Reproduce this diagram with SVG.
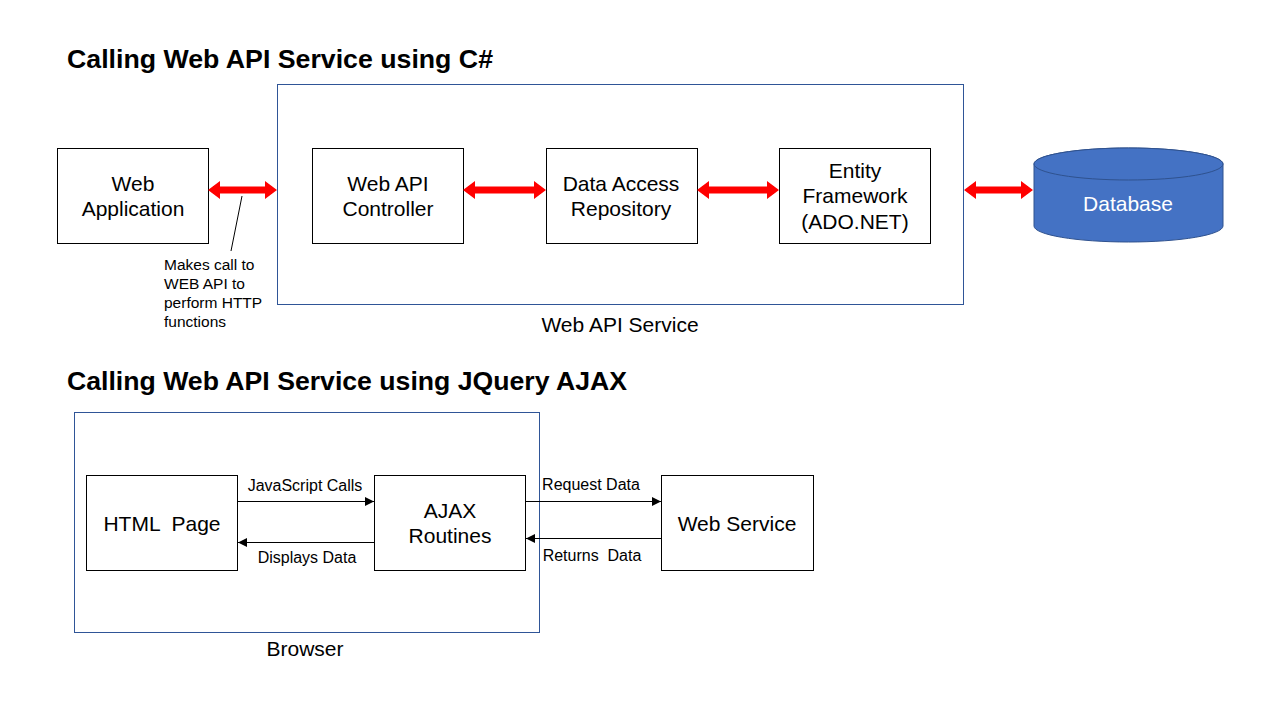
<svg xmlns="http://www.w3.org/2000/svg" width="1280" height="720" viewBox="0 0 1280 720">
<style>
.title{font-family:"Liberation Sans",Arial,sans-serif;font-weight:bold;font-size:26px;fill:#000}
.box{fill:#fff;stroke:#000;stroke-width:1}
.cont{fill:none;stroke:#2F5597;stroke-width:1}
.t20{font-family:"Liberation Sans",Arial,sans-serif;font-size:21px;fill:#000;text-anchor:middle}
.t18{font-family:"Liberation Sans",Arial,sans-serif;font-size:21px;fill:#000;text-anchor:middle}
.t14{font-family:"Liberation Sans",Arial,sans-serif;font-size:15.5px;fill:#000}
.t15{font-family:"Liberation Sans",Arial,sans-serif;font-size:16px;fill:#000;text-anchor:middle}
.red{fill:#FF0000}
.ln{stroke:#000;stroke-width:1;fill:none}
</style>
<defs>
<marker id="ah" viewBox="0 0 10 10" refX="10" refY="5" markerWidth="9" markerHeight="9" markerUnits="userSpaceOnUse" orient="auto">
<path d="M0,0 L10,5 L0,10 z" fill="#000"/>
</marker>
</defs>
<rect width="1280" height="720" fill="#fff"/>
<text class="title" x="67" y="68" textLength="426" lengthAdjust="spacingAndGlyphs">Calling Web API Service using C#</text>
<text class="title" x="67" y="390" textLength="560" lengthAdjust="spacingAndGlyphs">Calling Web API Service using JQuery AJAX</text>

<g id="webapi-service">
<rect class="cont" x="277.5" y="84.5" width="686" height="220"/>
<text class="t18" x="620" y="332">Web API Service</text>
</g>
<g id="web-application">
<rect class="box" x="57.5" y="148.5" width="151" height="95"/>
<text class="t20" x="133" y="191">Web</text>
<text class="t20" x="133" y="216">Application</text>
</g>
<g id="webapi-controller">
<rect class="box" x="312.5" y="148.5" width="151" height="95"/>
<text class="t20" x="388" y="191">Web API</text>
<text class="t20" x="388" y="216">Controller</text>
</g>
<g id="data-access">
<rect class="box" x="546.5" y="148.5" width="151" height="95"/>
<text class="t20" x="621" y="191">Data Access</text>
<text class="t20" x="621" y="216">Repository</text>
</g>
<g id="entity-framework">
<rect class="box" x="779.5" y="148.5" width="151" height="95"/>
<text class="t20" x="855" y="178">Entity</text>
<text class="t20" x="855" y="203">Framework</text>
<text class="t20" x="855" y="229">(ADO.NET)</text>
</g>
<g id="database">
<path d="M1034,164 L1034,226 A94.5,16 0 0 0 1223,226 L1223,164 A94.5,16 0 0 0 1034,164 z" fill="#4472C4" stroke="#2F528F" stroke-width="1"/>
<ellipse cx="1128.5" cy="164" rx="94.5" ry="16" fill="#4472C4" stroke="#2F528F" stroke-width="1"/>
<text class="t20" x="1128" y="211" style="fill:#fff">Database</text>
</g>
<g id="callout">
<line class="ln" x1="242" y1="196" x2="231" y2="251"/>
<text class="t14" x="164" y="270">Makes call to</text>
<text class="t14" x="164" y="289">WEB API to</text>
<text class="t14" x="164" y="308">perform HTTP</text>
<text class="t14" x="164" y="327">functions</text>
</g>

<g id="browser">
<rect class="cont" x="74.5" y="412.5" width="465" height="220"/>
<text class="t18" x="305" y="656">Browser</text>
</g>
<g id="html-page">
<rect class="box" x="86.5" y="475.5" width="151" height="95"/>
<text class="t20" x="162" y="531" xml:space="preserve">HTML  Page</text>
</g>
<g id="ajax-routines">
<rect class="box" x="374.5" y="475.5" width="151" height="95"/>
<text class="t20" x="450" y="518">AJAX</text>
<text class="t20" x="450" y="543">Routines</text>
</g>
<g id="web-service">
<rect class="box" x="661.5" y="475.5" width="152" height="95"/>
<text class="t20" x="737" y="531">Web Service</text>
</g>

<g id="connectors">
<path class="red" d="M208,190 L220,181 L220,186.5 L265,186.5 L265,181 L277,190 L265,199 L265,193.5 L220,193.5 L220,199 z"/>
<path class="red" d="M463,190 L475,181 L475,186.5 L534,186.5 L534,181 L546,190 L534,199 L534,193.5 L475,193.5 L475,199 z"/>
<path class="red" d="M697,190 L709,181 L709,186.5 L767,186.5 L767,181 L779,190 L767,199 L767,193.5 L709,193.5 L709,199 z"/>
<path class="red" d="M964,190 L976,181 L976,186.5 L1021,186.5 L1021,181 L1033,190 L1021,199 L1021,193.5 L976,193.5 L976,199 z"/>

<line class="ln" x1="237.5" y1="501.5" x2="374" y2="501.5" marker-end="url(#ah)"/>
<line class="ln" x1="374.5" y1="542.5" x2="238" y2="542.5" marker-end="url(#ah)"/>
<line class="ln" x1="525.5" y1="501.5" x2="661" y2="501.5" marker-end="url(#ah)"/>
<line class="ln" x1="661.5" y1="538.5" x2="526" y2="538.5" marker-end="url(#ah)"/>
<text class="t15" x="305" y="491">JavaScript Calls</text>
<text class="t15" x="307" y="563">Displays Data</text>
<text class="t15" x="591" y="490">Request Data</text>
<text class="t15" x="592" y="561" xml:space="preserve">Returns  Data</text>
</g>
</svg>
